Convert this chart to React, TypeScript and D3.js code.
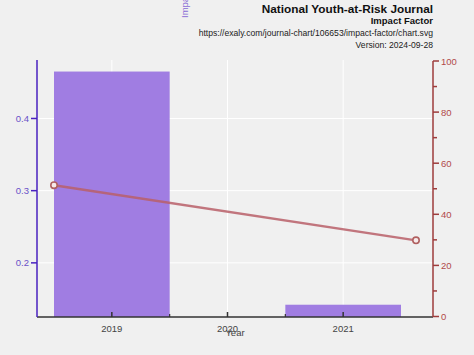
import React from "react";
import * as d3 from "d3";

const years = ["2019", "2020", "2021"];
const impactFactor: (number | null)[] = [0.465, null, 0.142];
const lineYears = [2019, 2021];
const lineValues = [51.4, 29.8];
const leftTicks = [0.2, 0.3, 0.4];
const rightTicks = [0, 20, 40, 60, 80, 100];
const rightMinor = [10, 30, 50, 70, 90];

const W = 474;
const H = 355;
const left = 37;
const right = 433;
const top = 60;
const bottom = 317;

export default function App() {
  const x = d3.scaleBand<string>().domain(years).range([54, 401]).padding(0);
  const yL = d3.scaleLinear().domain([0.125, 0.481]).range([bottom, top]);
  const yR = d3.scaleLinear().domain([0, 100]).range([316.5, 61]);
  const xLine = d3.scaleLinear().domain([2019, 2021]).range([54, 416]);
  const line = d3
    .line<number>()
    .x((_, i) => xLine(lineYears[i]))
    .y((d) => yR(d));
  const font = "Liberation Sans, Arial, sans-serif";
  const minorX = years.slice(1).map((y) => x(y)!);
  const tickFs = 9.5;

  return (
    <svg
      width={W}
      height={H}
      style={{ position: "absolute", left: 0, top: 0, background: "#f0f0f0" }}
      fontFamily={font}
    >
      <rect x={0} y={0} width={W} height={353} fill="#f0f0f0" />
      {/* grid */}
      {leftTicks.map((t) => (
        <line key={t} x1={left} x2={right} y1={yL(t)} y2={yL(t)} stroke="#fff" strokeWidth={1} />
      ))}
      {years.map((y) => (
        <line
          key={y}
          x1={x(y)! + x.bandwidth() / 2}
          x2={x(y)! + x.bandwidth() / 2}
          y1={top}
          y2={bottom}
          stroke="#fff"
          strokeWidth={1}
        />
      ))}
      {/* bars */}
      {years.map((y, i) =>
        impactFactor[i] == null ? null : (
          <rect
            key={y}
            x={x(y)!}
            width={x.bandwidth()}
            y={yL(impactFactor[i] as number)}
            height={bottom - yL(impactFactor[i] as number)}
            fill="#9b76e0"
            opacity={0.95}
          />
        )
      )}
      {/* line */}
      <path d={line(lineValues) || ""} fill="none" stroke="#b95f69" strokeWidth={2.5} opacity={0.85} />
      {lineValues.map((v, i) => (
        <circle
          key={i}
          cx={xLine(lineYears[i])}
          cy={yR(v)}
          r={3.2}
          fill="#f6eaea"
          stroke="#b06060"
          strokeWidth={1.6}
        />
      ))}
      {/* bottom axis */}
      <line x1={left} x2={right} y1={bottom} y2={bottom} stroke="#333" strokeWidth={1.5} />
      {years.map((y) => (
        <g key={y}>
          <line
            x1={x(y)! + x.bandwidth() / 2}
            x2={x(y)! + x.bandwidth() / 2}
            y1={bottom}
            y2={bottom - 5}
            stroke="#333"
            strokeWidth={1.5}
          />
          <text x={x(y)! + x.bandwidth() / 2} y={332} textAnchor="middle" fontSize={tickFs} fill="#444">
            {y}
          </text>
        </g>
      ))}
      {minorX.map((mx, i) => (
        <line key={i} x1={mx} x2={mx} y1={bottom} y2={bottom - 3} stroke="#333" strokeWidth={1.2} />
      ))}
      <text x={235} y={336} textAnchor="middle" fontSize={tickFs} fill="#444">
        Year
      </text>
      {/* left axis */}
      <line x1={left} x2={left} y1={top} y2={bottom} stroke="#4a22c0" strokeWidth={1.5} />
      {leftTicks.map((t) => (
        <g key={t}>
          <line x1={left - 6} x2={left} y1={yL(t)} y2={yL(t)} stroke="#4a22c0" strokeWidth={1.5} />
          <text x={left - 8} y={yL(t) + 3.5} textAnchor="end" fontSize={tickFs} fill="#6a50c8">
            {t.toFixed(1)}
          </text>
        </g>
      ))}
      <text
        transform={`translate(188, 18) rotate(-90)`}
        textAnchor="start"
        fontSize={tickFs}
        fill="#8a6cd6"
      >
        Impact Factor
      </text>
      {/* right axis */}
      <line x1={right} x2={right} y1={61} y2={bottom} stroke="#9e3c3c" strokeWidth={1.5} />
      {rightTicks.map((t) => (
        <g key={t}>
          <line x1={right} x2={right + 6} y1={yR(t)} y2={yR(t)} stroke="#9e3c3c" strokeWidth={1.5} />
          <text x={right + 8} y={yR(t) + 3.5} textAnchor="start" fontSize={tickFs} fill="#b04a4a">
            {t}
          </text>
        </g>
      ))}
      {rightMinor.map((t) => (
        <line key={t} x1={right} x2={right + 4} y1={yR(t)} y2={yR(t)} stroke="#9e3c3c" strokeWidth={1.5} />
      ))}
      {/* titles */}
      <text x={433} y={12.5} textAnchor="end" fontSize={11.8} fontWeight="bold" fill="#111">
        National Youth-at-Risk Journal
      </text>
      <text x={433} y={24} textAnchor="end" fontSize={9.5} fontWeight="bold" fill="#111">
        Impact Factor
      </text>
      <text x={433} y={36} textAnchor="end" fontSize={8.6} fill="#222">
        https://exaly.com/journal-chart/106653/impact-factor/chart.svg
      </text>
      <text x={433} y={47.5} textAnchor="end" fontSize={8.6} fill="#222">
        Version: 2024-09-28
      </text>
    </svg>
  );
}
